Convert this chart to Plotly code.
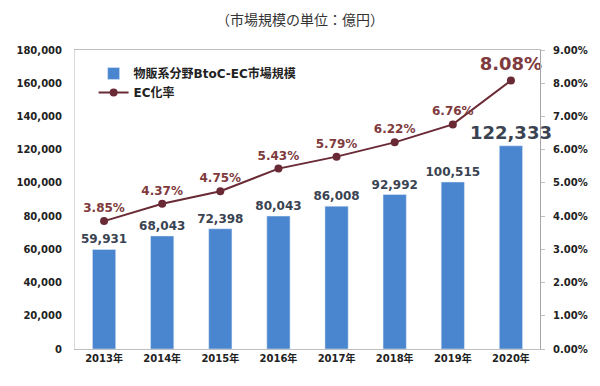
import plotly.graph_objects as go

years = ["2013年", "2014年", "2015年", "2016年", "2017年", "2018年", "2019年", "2020年"]
market = [59931, 68043, 72398, 80043, 86008, 92992, 100515, 122333]
ec_rate = [3.85, 4.37, 4.75, 5.43, 5.79, 6.22, 6.76, 8.08]
left_ticks = [0, 20000, 40000, 60000, 80000, 100000, 120000, 140000, 160000, 180000]
right_ticks = [0, 1, 2, 3, 4, 5, 6, 7, 8, 9]

tick_font = dict(family="DejaVu Sans", size=10, color="#222222", weight="bold")

fig = go.Figure()
fig.add_trace(go.Bar(
    x=years, y=market, name="物販系分野BtoC-EC市場規模",
    marker=dict(color="#4a86d0"), width=0.4,
    text=[f"{v:,}" for v in market], textposition="outside",
    constraintext="none",
    textfont=dict(family="DejaVu Sans", color="#3a4352", weight="bold",
                  size=[12] * (len(market) - 1) + [18]),
    cliponaxis=False,
))
fig.add_trace(go.Scatter(
    x=years, y=ec_rate, name="EC化率", yaxis="y2",
    mode="lines+markers+text",
    line=dict(color="#6a2a35", width=2),
    marker=dict(color="#6a2a35", size=8),
    text=[f"{v:.2f}%" for v in ec_rate], textposition="top center",
    textfont=dict(family="DejaVu Sans", color="#7e3a3c", weight="bold",
                  size=[12] * (len(ec_rate) - 1) + [18]),
    cliponaxis=False,
))

fig.update_layout(
    width=600, height=386,
    margin=dict(l=75, r=58, t=50, b=37),
    paper_bgcolor="white", plot_bgcolor="white",
    title=dict(text="（市場規模の単位：億円）", x=0.5, xanchor="center", y=0.96,
               font=dict(family="Noto Sans CJK JP", size=14, color="#333333")),
    showlegend=True,
    legend=dict(x=0.04, y=0.97, xanchor="left", yanchor="top",
                font=dict(family="DejaVu Sans, Noto Sans CJK JP", size=12,
                          color="#222222", weight="bold"),
                bgcolor="rgba(0,0,0,0)", tracegroupgap=10, itemwidth=30),
    xaxis=dict(tickfont=dict(family="DejaVu Sans, Noto Sans CJK JP", size=10,
                             color="#222222", weight="bold"),
               showline=True, linecolor="#bfbfbf", mirror=True, showgrid=False,
               ticks=""),
    yaxis=dict(range=[0, 180000], tickvals=left_ticks,
               ticktext=[f"{v:,}" for v in left_ticks], tickfont=tick_font,
               showgrid=False, showline=True, linecolor="#d9d9d9", mirror=True,
               zeroline=False, ticklen=0, ticklabelstandoff=10),
    yaxis2=dict(range=[0, 9], tickvals=right_ticks,
                ticktext=[f"{v:.2f}%" for v in right_ticks], tickfont=tick_font,
                overlaying="y", side="right", showgrid=False, showline=True,
                linecolor="#a6a6a6", ticks="outside", ticklen=4, tickcolor="#bfbfbf",
                zeroline=False, ticklabelstandoff=6),
    font=dict(family="DejaVu Sans, Noto Sans CJK JP"),
)

fig.write_html("out.html", config={"displayModeBar": False},
               post_script="document.body.style.margin='0';")
